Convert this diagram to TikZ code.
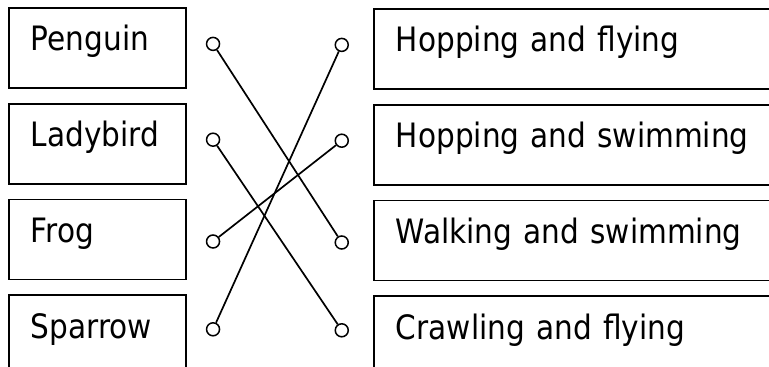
\documentclass[tikz,border=0pt]{standalone}
\usepackage{fontspec}
\setmainfont{DejaVu Sans}[FakeStretch=0.88]
\usetikzlibrary{positioning}
\tikzset{
	animal/.style={draw, rectangle, line width=0.9pt, minimum width=88.5pt, minimum height=40pt, inner xsep=11pt, text width=66.5pt, align=left, text height=0.73em, text depth=0.45em, font=\fontsize{16.8}{18}\selectfont},
	% right column runs off the page edge
	motion/.style={animal, minimum width=210pt, text width=188pt},
	dot/.style={draw, circle, inner sep=0pt, minimum size=6.5pt, line width=0.75pt},
}

\begin{document}
\begin{tikzpicture}[x=0.5pt, y=-0.5pt]
		\useasboundingbox (0,0) rectangle (769,367);
		\node (pen) [animal, anchor=north west] at (8,7) {Penguin};
		\node (lady) [animal, below=7pt of pen] {Ladybird};
		\node (frog) [animal, below=7pt of lady] {Frog};
		\node (spar) [animal, below=7pt of frog] {Sparrow};
		
		\node (hopfly) [motion, anchor=north west] at (373,8) {Hopping and flying};
		\node (hopswim) [motion, below=7pt of hopfly] {Hopping and swimming};
		\node (walkswim) [motion, below=7pt of hopswim] {Walking and swimming};
		\node (crawlfly) [motion, below=7pt of walkswim] {Crawling and flying};
		
		\node (cpen) [dot, right=9.5pt of pen, yshift=2pt] {};
		\node (clady) [dot, right=9.5pt of lady, yshift=2pt] {};
		\node (cfrog) [dot, right=9.5pt of frog, yshift=-1pt] {};
		\node (cspar) [dot, right=9.5pt of spar, yshift=3pt] {};
		
		\node (chopfly) [dot, left=12pt of hopfly, yshift=2pt] {};
		\node (chopswim) [dot, left=12pt of hopswim, yshift=2pt] {};
		\node (cwalkswim) [dot, left=12pt of walkswim, yshift=-1pt] {};
		\node (ccrawlfly) [dot, left=12pt of crawlfly, yshift=3pt] {};
		
		\begin{scope}[line width=0.85pt, black]
			\draw (cpen) -- (cwalkswim);
			\draw (clady) -- (ccrawlfly);
			\draw (cfrog) -- (chopswim);
			\draw (cspar) -- (chopfly);
		\end{scope}
	\end{tikzpicture}
\end{document}
